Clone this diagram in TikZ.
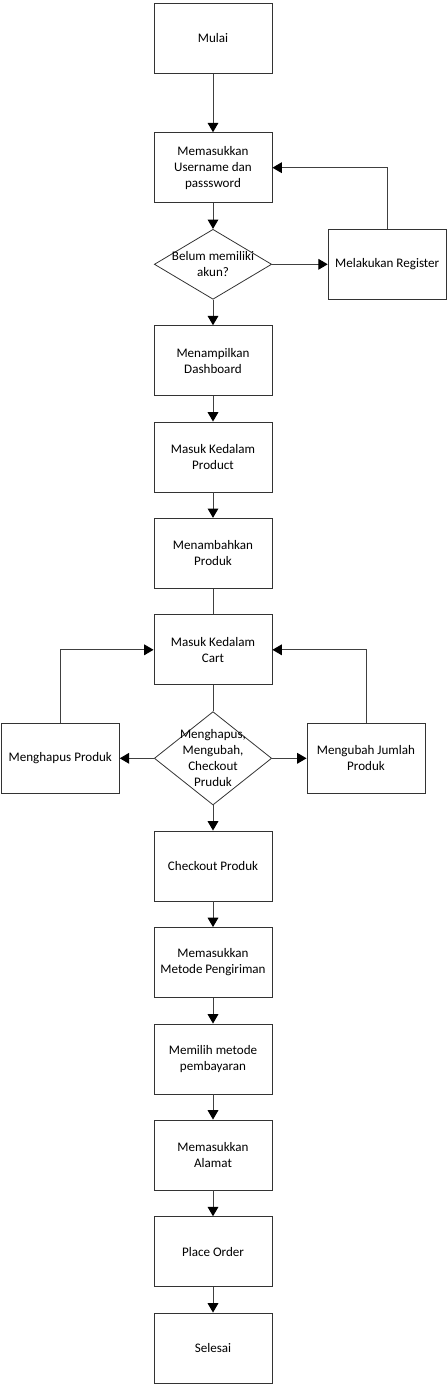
\documentclass[tikz,border=0pt]{standalone}
\usepackage{fontspec}
\setmainfont{Carlito}
\usetikzlibrary{shapes.geometric, arrows.meta}

\begin{document}
\begin{tikzpicture}[x=0.75pt, y=-0.75pt,
    kotak/.style={draw=black!80, line width=0.7pt, minimum width=88.5pt, minimum height=52.5pt, inner sep=1pt, align=center, font=\fontsize{9.8}{12}\selectfont},
    pilihan/.style={diamond, draw=black!80, line width=0.6pt, inner sep=0pt, minimum width=88pt},
    teks/.style={align=center, font=\fontsize{9.8}{12}\selectfont},
    panah/.style={draw=black!75, line width=0.75pt, -{Triangle[length=7pt, width=8pt, color=black]}},
    garis/.style={draw=black!75, line width=0.75pt}]
      \useasboundingbox (0,0) rectangle (448,1387);

      \node[kotak] (ALUR1) at (213,38.5) {Mulai};
      \node[kotak] (ALUR2) at (213,167.7) {Memasukkan\\Username dan\\passsword};
      \node[pilihan, minimum height=52.5pt, label={[teks]center:Belum memiliki\\akun?}] (ALUR3) at (213,264.3) {};
      \node[kotak] (ALUR4) at (387.2,264.3) {Melakukan Register};
      \node[kotak] (ALUR5) at (213,360.7) {Menampilkan\\Dashboard};
      \node[kotak] (ALUR6) at (213,457) {Masuk Kedalam\\Product};
      \node[kotak] (ALUR7) at (213,553.3) {Menambahkan\\Produk};
      \node[kotak] (ALUR8) at (213,649.8) {Masuk Kedalam\\Cart};
      \node[pilihan, minimum height=70pt, label={[teks]center:Menghapus,\\Mengubah,\\Checkout\\Pruduk}] (ALUR9) at (213,758.3) {};
      \node[kotak] (ALUR10) at (60.3,758.3) {Menghapus Produk};
      \node[kotak] (ALUR11) at (366,758.3) {Mengubah Jumlah\\Produk};
      \node[kotak] (ALUR12) at (213,866) {Checkout Produk};
      \node[kotak] (ALUR13) at (213,962.5) {Memasukkan\\Metode Pengiriman};
      \node[kotak] (ALUR14) at (213,1059) {Memilih metode\\pembayaran};
      \node[kotak] (ALUR15) at (213,1155) {Memasukkan\\Alamat};
      \node[kotak] (ALUR16) at (213,1251.7) {Place Order};
      \node[kotak] (ALUR17) at (213,1348) {Selesai};

      \draw[panah] (node cs:name=ALUR1) -- (node cs:name=ALUR2);
      \draw[panah] (node cs:name=ALUR2) -- (node cs:name=ALUR3);
      \draw[panah] (node cs:name=ALUR3) -- (node cs:name=ALUR4);
      \draw[panah] (node cs:name=ALUR4, anchor=north) |- (node cs:name=ALUR2);
      \draw[panah] (node cs:name=ALUR3) -- (node cs:name=ALUR5);
      \draw[panah] (node cs:name=ALUR5) -- (node cs:name=ALUR6);
      \draw[panah] (node cs:name=ALUR6) -- (node cs:name=ALUR7);
      \draw[garis] (node cs:name=ALUR7) -- (node cs:name=ALUR8);
      \draw[garis] (node cs:name=ALUR8) -- (node cs:name=ALUR9);
      \draw[panah] (node cs:name=ALUR9) -- (node cs:name=ALUR10);
      \draw[panah] (node cs:name=ALUR9) -- (node cs:name=ALUR11);
      \draw[panah] (node cs:name=ALUR10, anchor=north) |- (node cs:name=ALUR8);
      \draw[panah] (node cs:name=ALUR11, anchor=north) |- (node cs:name=ALUR8);
      \draw[panah] (node cs:name=ALUR9) -- (node cs:name=ALUR12);
      \draw[panah] (node cs:name=ALUR12) -- (node cs:name=ALUR13);
      \draw[panah] (node cs:name=ALUR13) -- (node cs:name=ALUR14);
      \draw[panah] (node cs:name=ALUR14) -- (node cs:name=ALUR15);
      \draw[panah] (node cs:name=ALUR15) -- (node cs:name=ALUR16);
      \draw[panah] (node cs:name=ALUR16) -- (node cs:name=ALUR17);
    \end{tikzpicture}
\end{document}
